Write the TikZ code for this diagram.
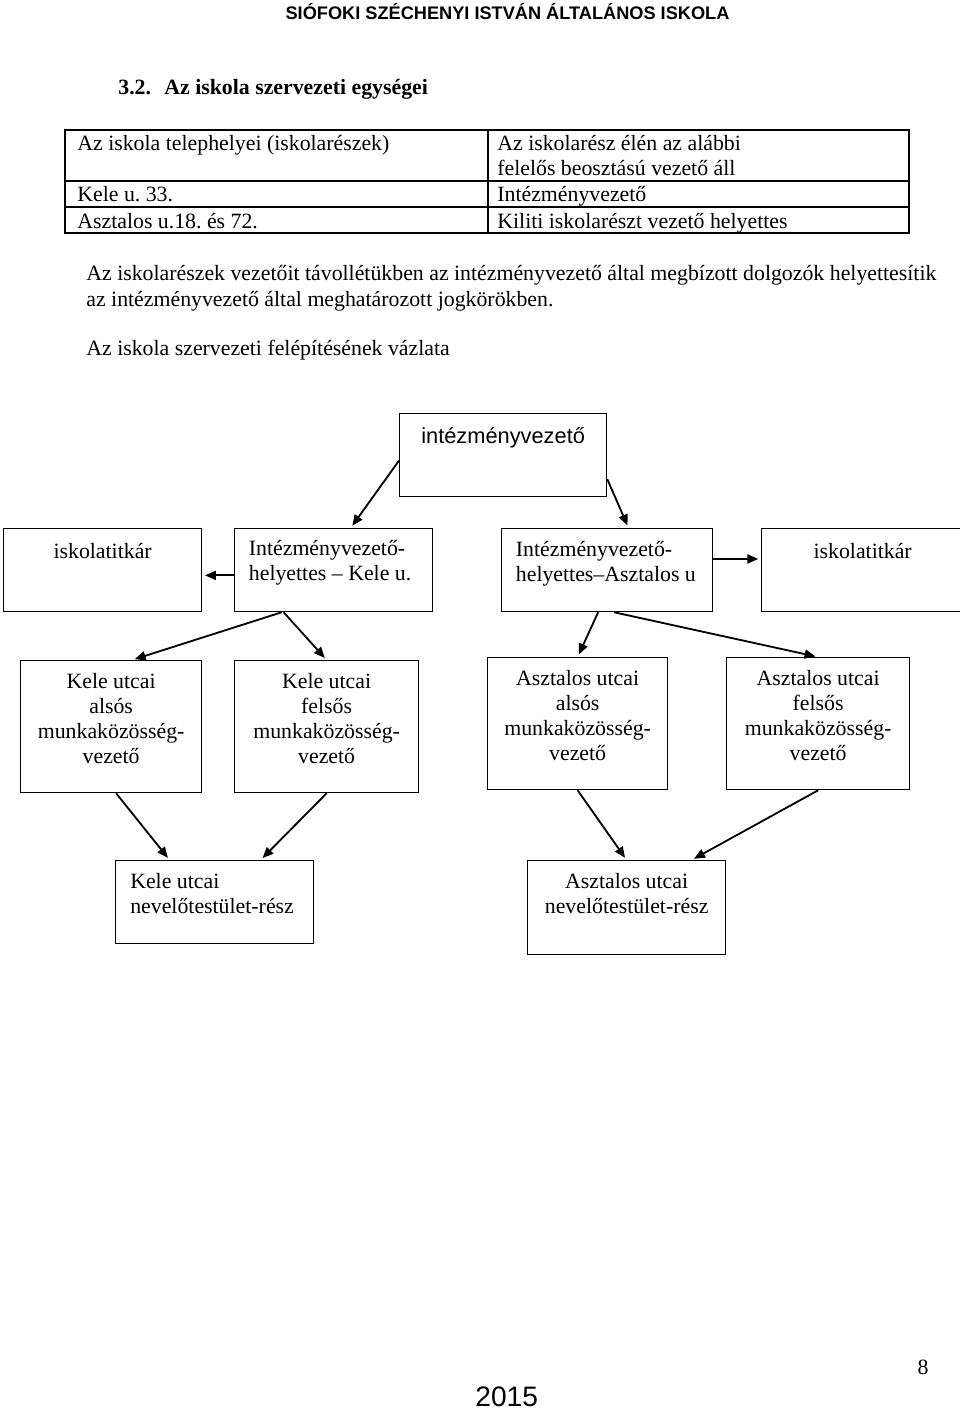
\documentclass[tikz,border=0pt]{standalone}
\usepackage{fontspec}
\setmainfont{Liberation Serif}
\setsansfont{Liberation Sans}
\frenchspacing
\usetikzlibrary{positioning,calc,arrows.meta}

\begin{document}
\begin{tikzpicture}[%
    x=0.55pt, y=-0.55pt,                % One unit is one pixel of the page, y goes down
    >={Triangle[length=6pt,width=5pt]}, % Filled arrow heads
    font=\fontsize{12}{13.8}\selectfont,% Body text size
    ]
% -------------------------------------------------
% Box, text and connector styles
\tikzset{
  wh/.style 2 args={minimum width=#1*0.55pt, minimum height=#2*0.55pt},
  box/.style={draw, line width=0.7pt, anchor=north west, inner sep=0pt},
  lbl/.style={inner sep=0pt, align=center},
  lbll/.style={inner sep=0pt, align=left},
  txt/.style={inner sep=0pt, anchor=base west},
  sans/.style={font=\fontsize{12}{13.8}\sffamily},
  conn/.style={->, line width=1pt, shorten >=1.5pt},
}
\path[use as bounding box, fill=white] (0,0) rectangle (960,1410);
% -------------------------------------------------
% Page head, section title and the table
\node[anchor=base, font=\fontsize{10}{12}\sffamily\bfseries] (head) at (507.5,19.5)
  {SIÓFOKI SZÉCHENYI ISTVÁN ÁLTALÁNOS ISKOLA};
\node[txt, font=\fontsize{12}{13.8}\bfseries] (secnum) at (118,94) {3.2.};
\node[txt, font=\fontsize{12}{13.8}\bfseries] (sectitle) at (164,94) {Az iskola szervezeti egységei};

\draw[line width=0.7pt] (65,130) rectangle (909,233)
  (488,130) -- (488,233) (65,181) -- (909,181) (65,207) -- (909,207);
\node[txt] (tabA) at (77,150) {Az iskola telephelyei (iskolarészek)};
\node[txt] (tabB) at (497,150) {Az iskolarész élén az alábbi};
\node[txt] (tabBb) at (497,175) {felelős beosztású vezető áll};
\node[txt] (kele) at (77,201.5) {Kele u. 33.};
\node[txt] (keleV) at (497,201.5) {Intézményvezető};
\node[txt] (aszt) at (77,228) {Asztalos u.18. és 72.};
\node[txt] (asztV) at (497,228) {Kiliti iskolarészt vezető helyettes};

\node[txt] (parA) at (86,280) {Az iskolarészek vezetőit távollétükben az intézményvezető által megbízott dolgozók helyettesítik};
\node[txt] (parB) at (86,306) {az intézményvezető által meghatározott jogkörökben.};
\node[txt] (vazlat) at (86,355) {Az iskola szervezeti felépítésének vázlata};

% -------------------------------------------------
% Start by placing the boxes
\node[box, wh={207}{83}] (top) at (399,413) {};
\node[box, wh={198}{83}] (titkarL) at (3,528) {};
\node[box, wh={198}{83}] (heKele) at (234,528) {};
\node[box, wh={211}{83}] (heAszt) at (501,528) {};
\node[box, wh={202}{83}] (titkarR) at (761,528) {};
\node[box, wh={181}{132}] (mkKA) at (20,660) {};
\node[box, wh={184}{132}] (mkKF) at (234,660) {};
\node[box, wh={180}{132}] (mkAA) at (487,657) {};
\node[box, wh={183}{132}] (mkAF) at (726,657) {};
\node[box, wh={198}{83}] (ntK) at (115,860) {};
\node[box, wh={198}{94}] (ntA) at (527,860) {};

% Texts near the top of each box
\node[lbl, sans, below=8pt of top.north] (topT) {intézményvezető};
\node[lbl, below=8pt of titkarL.north] (titkarLT) {iskolatitkár};
\node[lbl, below=8pt of titkarR.north] (titkarRT) {iskolatitkár};
\node[lbll, below right=6.6pt and 8pt of heKele.north west] (heKeleT)
  {Intézményvezető-\\helyettes – Kele u.};
\node[lbll, below right=7pt and 8pt of heAszt.north west] (heAsztT)
  {Intézményvezető-\\helyettes–Asztalos u};
\node[lbl, below=7pt of mkKA.north] (mkKAT) {Kele utcai\\alsós\\munkaközösség-\\vezető};
\node[lbl, below=7pt of mkKF.north] (mkKFT) {Kele utcai\\felsős\\munkaközösség-\\vezető};
\node[lbl, below=7pt of mkAA.north] (mkAAT) {Asztalos utcai\\alsós\\munkaközösség-\\vezető};
\node[lbl, below=7pt of mkAF.north] (mkAFT) {Asztalos utcai\\felsős\\munkaközösség-\\vezető};
\node[lbll, below right=7pt and 8.2pt of ntK.north west] (ntKT) {Kele utcai\\nevelőtestület-rész};
\node[lbl, below=7pt of ntA.north] (ntAT) {Asztalos utcai\\nevelőtestület-rész};

% -------------------------------------------------
% Connectors
\draw[conn] (top.183) -- (heKele.68);
\draw[conn] (top.-13) -- (heAszt.63);
\draw[conn] (heKele.183) -- (heKele.183 -| titkarL.east);
\draw[conn] (heAszt.6) -- (heAszt.6 -| titkarR.west);
\draw[conn] ($(heKele.south)+(-52,0)$) -- ($(mkKA.north)+(21,0)$);
\draw[conn] ($(heKele.south)+(-50,0)$) -- (mkKF.north);
\draw[conn] ($(heAszt.south)+(-9,0)$) -- (mkAA.north);
\draw[conn] ($(heAszt.south)+(7,0)$) -- (mkAF.north);
\draw[conn] ($(mkKA.south)+(5,0)$) -- ($(ntK.north)+(-45,0)$);
\draw[conn] (mkKF.south) -- ($(ntK.north)+(46,0)$);
\draw[conn] (mkAA.south) -- (ntA.north);
\draw[conn] (mkAF.south) -- ($(ntA.north)+(65,0)$);

% -------------------------------------------------
% Page foot
\node[anchor=base, font=\fontsize{15.5}{18}\sffamily] (year) at (506.7,1406.7) {2015};
\node[anchor=base] (page) at (923,1374) {8};
\end{tikzpicture}
\end{document}
